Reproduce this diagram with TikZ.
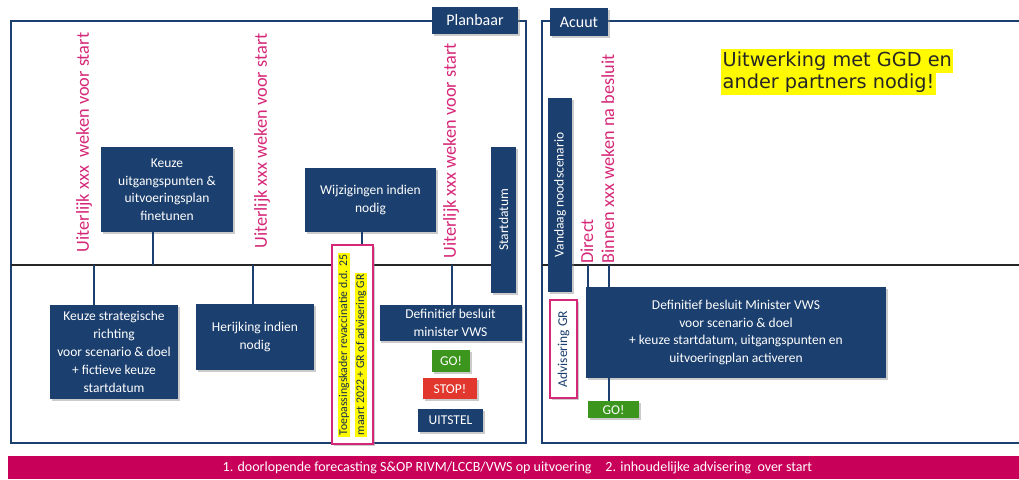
\documentclass[tikz,border=0pt]{standalone}
\usepackage{fontspec}
\setmainfont{Carlito}
\newfontfamily\dejavu{DejaVu Sans}
\usetikzlibrary{shadows}
\definecolor{navy}{RGB}{27,63,110}
\definecolor{pinkt}{RGB}{214,40,120}
\definecolor{band}{RGB}{200,0,90}
\definecolor{gogreen}{RGB}{60,150,30}
\definecolor{stopred}{RGB}{225,55,45}
\definecolor{hl}{RGB}{255,250,0}
\begin{document}
\begin{tikzpicture}[x=1pt,y=-1pt,
  shad/.style={drop shadow={shadow xshift=1.5pt,shadow yshift=-1.5pt,fill=black!45,opacity=0.45}},
  box/.style={fill=navy,text=white,font=\fontsize{13.5}{17.5}\selectfont,align=center,inner sep=0pt,shad},
  tag/.style={box,font=\fontsize{13.5}{16}\selectfont},
  lbl/.style={fill=navy,text=white,font=\fontsize{16}{18}\selectfont,inner sep=0pt,shad},
  frame/.style={draw=navy,line width=2.5pt},
  hline/.style={draw=black!85,line width=1.2pt},
  conn/.style={draw=navy,line width=1.6pt},
  pinktxt/.style={text=pinkt,font=\fontsize{18.3}{21}\selectfont,rotate=90,inner sep=0pt,align=left},
  hltxt/.style={fill=hl,inner xsep=1.5pt,inner ysep=1pt,text=navy!70!black,font=\fontsize{11.8}{13}\selectfont,rotate=90,anchor=west},
  note/.style={fill=hl,anchor=base west,inner xsep=1.5pt,inner ysep=2pt,text height=15pt,text depth=5pt,font=\dejavu\fontsize{19.3}{22}\selectfont,text=black!85}
]
\useasboundingbox (0,0) rectangle (1019,479);
\fill[white] (0,0) rectangle (1019,479);

% frames
\draw[frame] (11,21) rectangle (526,443);
\draw[frame] (1019,21) -- (542,21) -- (542,443) -- (1019,443);

% horizontal time lines
\coordinate (h1) at (11,265);
\coordinate (h2) at (491,265);
\coordinate (h3) at (542,265);
\coordinate (h4) at (1019,265);
\draw[hline] (h1) -- (h2);
\draw[hline] (h3) -- (h4);

% labels
\node[lbl,minimum width=86,minimum height=27] (plan) at (475,20.5) {Planbaar};
\node[lbl,minimum width=58,minimum height=28] (acuut) at (579,22) {Acuut};

% pink rotated texts
\node[pinktxt] (u1) at (84,142.5) {Uiterlijk xxx\ \ weken voor start};
\node[pinktxt] (u2) at (262,141) {Uiterlijk xxx weken voor start};
\node[pinktxt] (u3) at (451,151) {Uiterlijk xxx weken voor start};
\node[pinktxt] (u4) at (597.5,159) {Direct\\Binnen xxx weken na besluit};

% Planbaar boxes
\node[box,minimum width=132,minimum height=85] (kup) at (167,189.5) {Keuze\\uitgangspunten \&\\uitvoeringsplan\\finetunen};
\node[box,font=\fontsize{13.5}{18}\selectfont,minimum width=128,minimum height=94] (ksr) at (114,352) {Keuze strategische\\richting\\voor scenario \& doel\\+ fictieve keuze\\startdatum};
\node[box,minimum width=118,minimum height=66] (her) at (255,337) {Herijking indien\\nodig};
\node[box,minimum width=131,minimum height=64] (wij) at (370.5,200) {Wijzigingen indien\\nodig};
\node[box,minimum width=142,minimum height=36] (def) at (450.5,323) {Definitief besluit\\minister VWS};
\node[box,rotate=90,minimum width=146,minimum height=25] (start) at (503.5,220) {Startdatum};

% toepassingskader
\node[draw=pinkt,line width=1.5pt,fill=white,minimum width=41,minimum height=199,inner sep=0pt,shad] (toep) at (352.5,344.5) {};
\node[hltxt] (t1) at (344,437) {Toepassingskader revaccinatie d.d. 25};
\node[hltxt] (t2) at (361,437) {maart 2022 + GR of advisering GR};

% decisions
\node[tag,fill=gogreen,minimum width=38,minimum height=22] (go1) at (451,361) {GO!};
\node[tag,fill=stopred,minimum width=54,minimum height=21] (stop1) at (450,388.5) {STOP!};
\node[tag,minimum width=65,minimum height=23] (uit1) at (450.5,420.5) {UITSTEL};

% Acuut boxes
\node[box,rotate=90,minimum width=194,minimum height=24] (vand) at (560,195) {Vandaag noodscenario};
\node[draw=pinkt,line width=1.3pt,fill=white,text=navy,font=\fontsize{13.5}{16}\selectfont,rotate=90,inner sep=0pt,minimum width=98,minimum height=27,shad] (adv) at (563.5,349) {Advisering GR};
\node[box,minimum width=300,minimum height=91] (defa) at (736,332.5) {Definitief besluit Minister VWS\\voor scenario \& doel\\+ keuze startdatum, uitgangspunten en\\uitvoeringplan activeren};
\node[tag,fill=gogreen,minimum width=51,minimum height=17] (go2) at (613.5,409.5) {GO!};

% connectors
\coordinate (c1) at (153,265);
\coordinate (c2) at (94,265);
\coordinate (c3) at (253,265);
\coordinate (c4) at (362,265);
\coordinate (c5) at (452,265);
\coordinate (c6) at (588,265);
\coordinate (c7) at (609,265);
\draw[conn] (c1) -- (c1 |- kup.south);
\draw[conn] (c2) -- (c2 |- ksr.north);
\draw[conn] (c3) -- (c3 |- her.north);
\draw[conn] (c4 |- wij.south) -- (c4 |- toep.north);
\draw[conn] (c5) -- (c5 |- def.north);
\draw[conn] (c6) -- (c6 |- defa.north);
\draw[conn] (c7) -- (c7 |- defa.north);
\draw[conn] (c7 |- defa.south) -- (c7 |- go2.north);

% note
\node[note] (n1) at (721,66) {Uitwerking met GGD en};
\node[note] (n2) at (721,88) {ander partners nodig!};

% bottom band
\node[fill=band,anchor=north west,minimum width=1011,minimum height=23,inner sep=0pt] (bandbox) at (8,456) {};
\node[text=white,font=\fontsize{14}{16}\selectfont,inner sep=0pt] (bandtxt) at (517.5,467.5) {1. doorlopende forecasting S\&OP RIVM/LCCB/VWS op uitvoering\hspace{14pt}2. inhoudelijke advisering\ \ over start};
\end{tikzpicture}
\end{document}
